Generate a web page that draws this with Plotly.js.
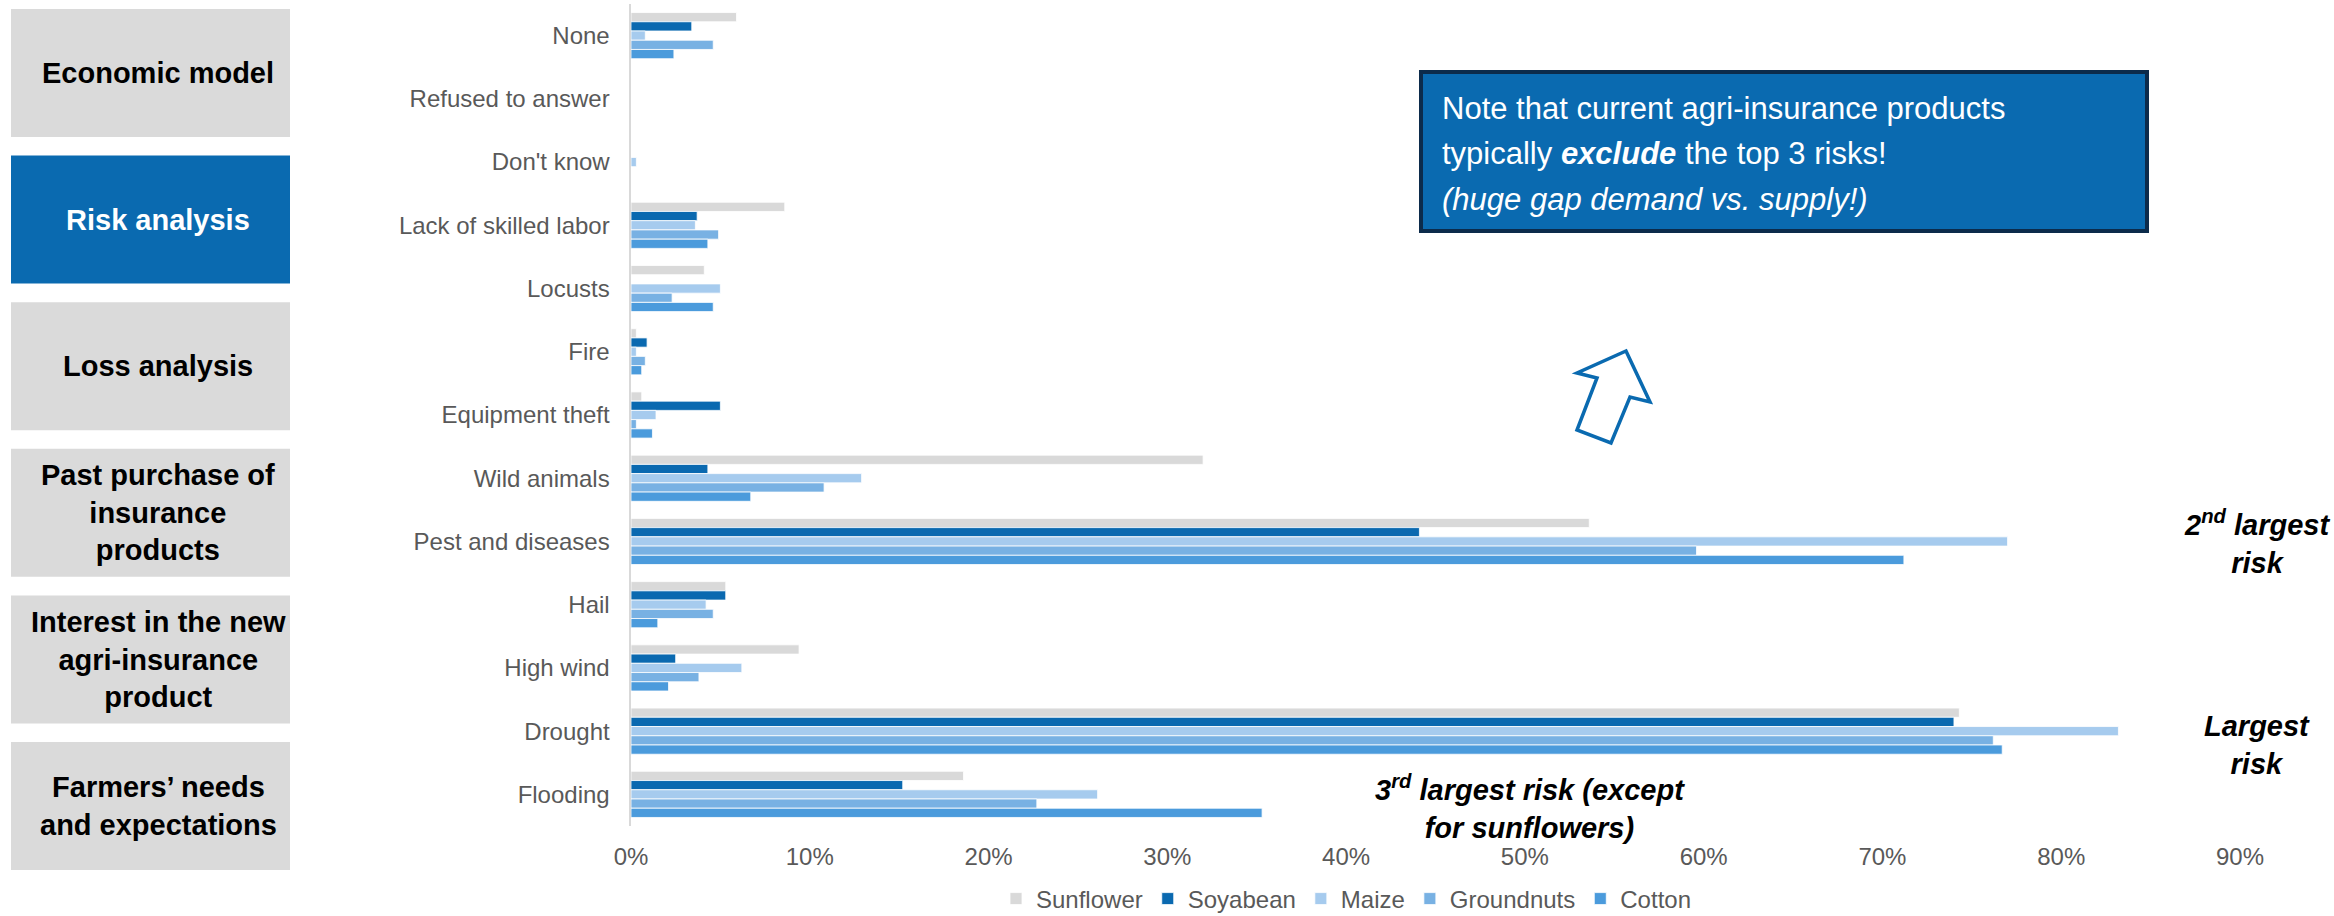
<!DOCTYPE html>
<html>
<head>
<meta charset="utf-8">
<script src="https://cdn.plot.ly/plotly-3.0.1.min.js"></script>
<style>
  html, body { margin: 0; padding: 0; background: #ffffff; }
  #chart { width: 2334px; height: 916px; }
</style>
</head>
<body>
<div id="chart"></div>
<script>
// ---------------- Data ----------------
const categories = ["None", "Refused to answer", "Don't know", "Lack of skilled labor", "Locusts", "Fire",
  "Equipment theft", "Wild animals", "Pest and diseases", "Hail", "High wind", "Drought", "Flooding"];

const sunflower  = [0.059, 0, 0,     0.086, 0.041, 0.003, 0.006, 0.320, 0.536, 0.053, 0.094, 0.743, 0.186];
const soyabean   = [0.034, 0, 0,     0.037, 0,     0.009, 0.050, 0.043, 0.441, 0.053, 0.025, 0.740, 0.152];
const maize      = [0.008, 0, 0.003, 0.036, 0.050, 0.003, 0.014, 0.129, 0.770, 0.042, 0.062, 0.832, 0.261];
const groundnuts = [0.046, 0, 0,     0.049, 0.023, 0.008, 0.003, 0.108, 0.596, 0.046, 0.038, 0.762, 0.227];
const cotton     = [0.024, 0, 0,     0.043, 0.046, 0.006, 0.012, 0.067, 0.712, 0.015, 0.021, 0.767, 0.353];

const seriesNames = ["Sunflower", "Soyabean", "Maize", "Groundnuts", "Cotton"];
const seriesColors = ["#D9D9D9", "#0A69B0", "#A6CBEE", "#78B1E3", "#4B9BDC"];
const seriesValues = [sunflower, soyabean, maize, groundnuts, cotton];

const sideBoxes = ["Economic model", "Risk analysis", "Loss analysis",
  "Past purchase of<br>insurance<br>products", "Interest in the new<br>agri-insurance<br>product",
  "Farmers’ needs<br>and expectations"];
const tickLabels = ["0%", "10%", "20%", "30%", "40%", "50%", "60%", "70%", "80%", "90%"];
const tickVals = [0, 0.1, 0.2, 0.3, 0.4, 0.5, 0.6, 0.7, 0.8, 0.9];

// ---------------- Layout helpers ----------------
const W = 2334, H = 916;
const M = { l: 631, r: 94, t: 4, b: 90 };
const PW = W - M.l - M.r, PH = H - M.t - M.b;
const px = x => (x - M.l) / PW;
const py = y => 1 - (y - M.t) / PH;

const FONT = "Liberation Sans, Arial, Helvetica, sans-serif";

const traces = seriesNames.map((name, i) => ({
  type: "bar",
  orientation: "h",
  name: name,
  x: seriesValues[i],
  y: categories,
  marker: { color: seriesColors[i], line: { color: "#ffffff", width: 0.8 } },
  hoverinfo: "x+y+name"
}));

const shapes = [];
const annotations = [];

// left side boxes
const boxTop0 = 9, boxH = 128, boxStep = 146.6;
sideBoxes.forEach((txt, i) => {
  const top = boxTop0 + i * boxStep;
  const isActive = i === 1;
  shapes.push({
    type: "rect", xref: "paper", yref: "paper",
    x0: px(11), x1: px(290), y0: py(top + boxH), y1: py(top),
    fillcolor: isActive ? "#0A6AB0" : "#DADADA", line: { width: 0 }, layer: "below"
  });
  annotations.push({
    xref: "paper", yref: "paper", x: px(158), y: py(top + boxH / 2),
    xanchor: "center", yanchor: "middle", showarrow: false, align: "center",
    text: "<b>" + txt + "</b>",
    font: { family: FONT, size: 29, color: isActive ? "#FFFFFF" : "#000000" }
  });
});

// note box
shapes.push({
  type: "rect", xref: "paper", yref: "paper",
  x0: px(1421), x1: px(2147), y0: py(231), y1: py(72),
  fillcolor: "#0A6AB0", line: { color: "#0C2B4B", width: 4 }
});
const noteLines = [
  "Note that current agri-insurance products",
  "typically <b><i>exclude</i></b> the top 3 risks!",
  "<i>(huge gap demand vs. supply!)</i>"
];
const noteY = [108, 153, 199];
noteLines.forEach((t, i) => {
  annotations.push({
    xref: "paper", yref: "paper", x: px(1440), y: py(noteY[i]),
    xanchor: "left", yanchor: "middle", showarrow: false, align: "left",
    text: t, font: { family: FONT, size: 31, color: "#FFFFFF" }
  });
});

// block arrow (outline)
const arrowPts = [[1626, 351], [1650, 402], [1630, 397], [1611, 443], [1577, 430], [1597, 378], [1577, 373]];
shapes.push({
  type: "path", xref: "paper", yref: "paper",
  path: "M" + arrowPts.map(p => px(p[0]) + "," + py(p[1])).join(" L") + " Z",
  fillcolor: "#FFFFFF", line: { color: "#0A6AB0", width: 3.5 }
});

// callout annotations
const boldItal = t => "<b><i>" + t + "</i></b>";
annotations.push({
  xref: "paper", yref: "paper", x: px(2257), y: py(542), xanchor: "center", yanchor: "middle",
  showarrow: false, align: "center",
  text: boldItal("2<sup>nd</sup> largest<br>risk"), font: { family: FONT, size: 29, color: "#000000" }
});
annotations.push({
  xref: "paper", yref: "paper", x: px(2257), y: py(745), xanchor: "center", yanchor: "middle",
  showarrow: false, align: "center",
  text: boldItal("Largest<br>risk"), font: { family: FONT, size: 29, color: "#000000" }
});
annotations.push({
  xref: "paper", yref: "paper", x: px(1530), y: py(807), xanchor: "center", yanchor: "middle",
  showarrow: false, align: "center",
  text: boldItal("3<sup>rd</sup> largest risk (except<br>for sunflowers)"), font: { family: FONT, size: 29, color: "#000000" }
});

const layout = {
  width: W, height: H,
  margin: Object.assign({ autoexpand: false }, M),
  paper_bgcolor: "#FFFFFF", plot_bgcolor: "#FFFFFF",
  barmode: "group", bargap: 0.27, bargroupgap: 0,
  font: { family: FONT, size: 24, color: "#595959" },
  showlegend: true,
  legend: {
    orientation: "h", xref: "paper", yref: "paper",
    x: px(996), y: py(899), xanchor: "left", yanchor: "middle",
    font: { family: FONT, size: 24, color: "#595959" },
    itemwidth: 30, traceorder: "normal", bgcolor: "rgba(0,0,0,0)"
  },
  xaxis: {
    range: [0, 0.9], tickvals: tickVals, ticktext: tickLabels,
    showgrid: false, zeroline: false, showline: false, ticks: "",
    tickfont: { family: FONT, size: 24, color: "#595959" },
    ticklabelstandoff: 14, fixedrange: true, automargin: false
  },
  yaxis: {
    type: "category", categoryorder: "array", categoryarray: categories,
    range: [12.5, -0.5], showgrid: false, zeroline: false,
    showline: true, linecolor: "#D9D9D9", linewidth: 2.5, ticks: "",
    tickfont: { family: FONT, size: 24, color: "#595959" },
    ticklabelstandoff: 14, fixedrange: true, automargin: false
  },
  shapes: shapes,
  annotations: annotations
};

Plotly.newPlot("chart", traces, layout, { displayModeBar: false, staticPlot: true });
</script>
</body>
</html>
